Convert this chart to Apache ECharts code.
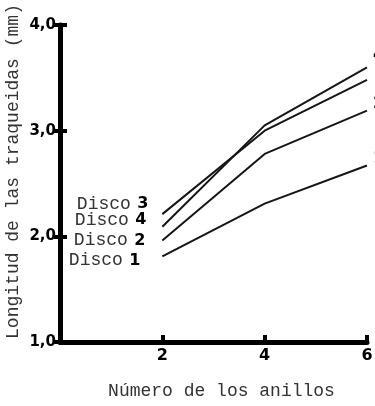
<!DOCTYPE html>
<html>
<head>
<meta charset="utf-8">
<script src="https://cdn.jsdelivr.net/npm/echarts@6/dist/echarts.min.js"></script>
<style>
  html, body { margin: 0; padding: 0; background: #fff; }
  #chart { width: 375px; height: 406px; }
</style>
</head>
<body>
<div id="chart"></div>
<script>
// ring number (x) and tracheid length per disc
const rings = [2, 4, 6]
const disco3 = [2.21, 3.00, 3.48]
const disco4 = [2.09, 3.05, 3.60]
const disco2 = [1.96, 2.78, 3.19]
const disco1 = [1.81, 2.31, 2.67]
const yTickLabels = { 1: '1,0', 2: '2,0', 3: '3,0', 4: '4,0' }

const seriesDefs = [
  { name: '3', values: disco3, lab: [-4, -10], end: null },
  { name: '4', values: disco4, lab: [-6, -7], end: [1, -12] },
  { name: '2', values: disco2, lab: [-7, 0], end: [1, -7] },
  { name: '1', values: disco1, lab: [-12, 4], end: [1, -7] }
]

const typeFont = 'Liberation Mono'
const handFont = 'DejaVu Sans'

const chart = echarts.init(document.getElementById('chart'), null, { renderer: 'canvas' })

const series = seriesDefs.map(d => ({
  type: 'line',
  name: 'Disco ' + d.name,
  symbol: 'circle',
  symbolSize: 0,
  showSymbol: true,
  lineStyle: { color: '#151515', width: 2 },
  label: { show: false },
  data: d.values.map((v, i) => {
    if (i !== 0) return [rings[i], v]
    return {
      value: [rings[i], v],
      label: {
        show: true,
        position: 'left',
        distance: 10,
        offset: d.lab,
        formatter: '{a|Disco} {b|' + d.name + '}',
        rich: {
          a: { fontFamily: typeFont, fontSize: 18, color: '#333' },
          b: { fontFamily: handFont, fontWeight: 'bold', fontSize: 16, color: '#000', padding: [0, 0, 0, 3] }
        }
      }
    }
  }),
  endLabel: d.end ? {
    show: true,
    distance: 5,
    offset: d.end,
    formatter: d.name,
    fontFamily: handFont,
    fontWeight: 'bold',
    fontSize: 16,
    color: '#000'
  } : { show: false }
}))

chart.setOption({
  animation: false,
  grid: { left: 60, right: 8, top: 25, bottom: 64, containLabel: false, outerBoundsMode: 'none' },
  xAxis: {
    type: 'value',
    min: 0, max: 6, interval: 2,
    name: 'Número de los anillos',
    nameLocation: 'middle',
    nameGap: 40,
    nameMoveOverlap: false,
    nameTextStyle: { fontFamily: typeFont, fontSize: 18, color: '#333', padding: [0, 0, 0, 16] },
    axisLine: { show: true, lineStyle: { color: '#000', width: 5 } },
    axisTick: { show: true, inside: true, length: 7, lineStyle: { color: '#000', width: 4 } },
    axisLabel: {
      margin: 6,
      fontFamily: handFont, fontWeight: 'bold', fontSize: 16, color: '#000',
      formatter: v => (v === 0 ? '' : String(v))
    },
    splitLine: { show: false }
  },
  yAxis: [{
    type: 'value',
    min: 1, max: 4, interval: 1,
    name: 'Longitud de las traqueidas (mm)',
    nameLocation: 'middle',
    nameGap: 38,
    nameRotate: 90,
    nameMoveOverlap: false,
    nameTextStyle: { fontFamily: typeFont, fontSize: 18, color: '#333', padding: [0, 0, 0, 24] },
    axisLine: { show: true, lineStyle: { color: '#000', width: 5 } },
    axisTick: { show: true, length: 6, lineStyle: { color: '#000', width: 4 } },
    axisLabel: {
      margin: 4,
      fontFamily: handFont, fontWeight: 'bold', fontSize: 15, color: '#000',
      formatter: v => yTickLabels[v] || ''
    },
    splitLine: { show: false }
  }, {
    type: 'value',
    position: 'left',
    min: 1, max: 4, interval: 1,
    axisLine: { show: false },
    axisTick: { show: true, inside: true, length: 7, lineStyle: { color: '#000', width: 4 } },
    axisLabel: { show: false },
    splitLine: { show: false }
  }],
  series: series
})
</script>
</body>
</html>
